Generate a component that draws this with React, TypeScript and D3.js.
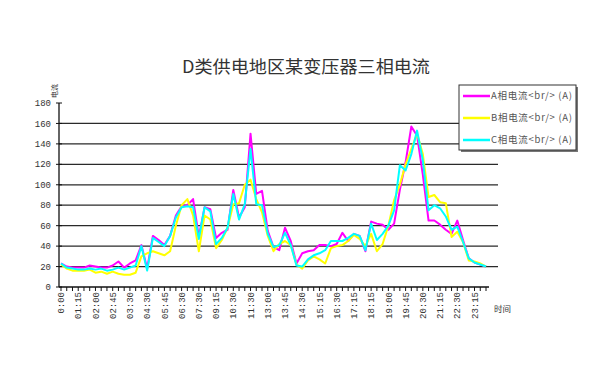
import * as React from 'react';
import * as d3 from 'd3';

const times = [
  '0:00', '0:30', '0:45', '01:15', '01:30', '01:45', '02:00', '02:15', '02:30', '02:45',
  '03:00', '03:15', '03:30', '03:45', '04:00', '04:30', '05:00', '05:15', '05:45', '06:00',
  '06:15', '06:30', '06:45', '07:00', '07:30', '08:15', '08:45', '09:15', '09:45', '10:15',
  '10:30', '10:45', '11:15', '11:30', '12:00', '12:30', '13:00', '13:15', '13:30', '13:45',
  '14:00', '14:15', '14:30', '14:45', '15:00', '15:15', '15:45', '16:15', '16:30', '16:45',
  '17:00', '17:15', '17:45', '18:00', '18:15', '18:30', '18:45', '19:00', '19:15', '19:30',
  '19:45', '20:00', '20:15', '20:30', '20:45', '21:00', '21:15', '21:45', '22:00', '22:30',
  '22:45', '23:00', '23:15', '23:30', '23:45',
];

const phaseA = [
  23, 20, 19, 19, 19, 21, 20, 19, 19, 21, 25, 19, 23, 26, 41, 18, 50, 46, 41, 50,
  70, 79, 80, 86, 49, 78, 76, 48, 53, 56, 95, 68, 78, 150, 91, 94, 55, 39, 36, 58,
  45, 23, 33, 35, 36, 41, 41, 40, 42, 53, 45, 52, 50, 35, 64, 62, 61, 56, 62, 95,
  122, 157, 148, 110, 65, 65, 61, 56, 52, 65, 46, 28, 24, 22, 20,
];

const phaseB = [
  22, 18, 16, 16, 16, 17, 14, 15, 13, 15, 13, 12, 12, 14, 30, 33, 35, 33, 31, 35,
  60, 80, 86, 70, 35, 70, 66, 38, 46, 58, 81, 82, 100, 105, 86, 73, 50, 35, 42, 45,
  41, 22, 18, 26, 30, 27, 23, 38, 40, 41, 45, 51, 47, 40, 52, 35, 42, 60, 85, 100,
  120, 135, 150, 130, 88, 90, 83, 82, 49, 54, 44, 26, 25, 23, 20,
];

const phaseC = [
  23, 19, 18, 17, 17, 18, 17, 18, 16, 17, 19, 17, 19, 21, 40, 16, 48, 44, 40, 50,
  68, 78, 79, 78, 47, 78, 74, 42, 48, 58, 91, 66, 81, 135, 81, 80, 52, 39, 41, 53,
  41, 21, 20, 27, 31, 33, 36, 45, 45, 45, 48, 52, 50, 36, 62, 46, 52, 60, 75, 119,
  114, 130, 153, 124, 75, 80, 77, 69, 56, 59, 44, 28, 24, 22, 20,
];

const yTicks = [0, 20, 40, 60, 80, 100, 120, 140, 160, 180];

const series = [
  { name: 'A相电流<br/> (A)', values: phaseA, color: '#ff00ff' },
  { name: 'B相电流<br/> (A)', values: phaseB, color: '#ffff00' },
  { name: 'C相电流<br/> (A)', values: phaseC, color: '#00ffff' },
];

export default function App() {
  const width = 605;
  const height = 375;
  const axisLeft = 59;
  const axisRight = 489;
  const gridRight = 498;

  const x = d3.scalePoint<string>().domain(times).range([61, 486]);
  const y = d3.scaleLinear().domain([0, 180]).range([287, 103]);

  const line = (vals: number[]) =>
    d3
      .line<number>()
      .x((_, i) => x(times[i]) as number)
      .y((d) => y(d))(vals) as string;

  const labelFont = '"Liberation Mono", "DejaVu Sans Mono", monospace';
  const cjkFont = '"Noto Sans CJK SC", sans-serif';

  return (
    <svg
      width={width}
      height={height}
      style={{ position: 'absolute', left: 0, top: 0, background: '#fff' }}
    >
      <text x={306} y={73} textAnchor="middle" fontSize={17.5} fill="#333" fontFamily={cjkFont}
        textLength={248} lengthAdjust="spacingAndGlyphs">
        D类供电地区某变压器三相电流
      </text>

      {/* grid */}
      {yTicks.filter((t) => t > 0 && t < 180).map((t) => (
        <line key={t} x1={axisLeft} x2={gridRight} y1={y(t)} y2={y(t)} stroke="#2a2a2a" strokeWidth={1.3} />
      ))}

      {/* axes */}
      <line x1={axisLeft} x2={axisLeft} y1={y(180)} y2={y(0)} stroke="#111" strokeWidth={1.3} />
      <line x1={axisLeft} x2={axisRight} y1={y(0)} y2={y(0)} stroke="#111" strokeWidth={1.3} />
      {yTicks.map((t) => (
        <g key={t}>
          <line x1={axisLeft - 3} x2={axisLeft + 3} y1={y(t)} y2={y(t)} stroke="#111" />
          <text x={51} y={y(t)} dy="0.35em" textAnchor="end" fontSize={9} fill="#333" fontFamily={labelFont}>
            {t}
          </text>
        </g>
      ))}
      {times.map((t) => (
        <line key={t} x1={x(t)} x2={x(t)} y1={y(0)} y2={y(0) + 4} stroke="#111" />
      ))}
      {times.map((t, i) =>
        i % 3 === 0 ? (
          <text
            key={t}
            transform={`translate(${x(t)},${y(0) + 5}) rotate(-90)`}
            dy="0.35em"
            textAnchor="end"
            fontSize={9}
            fill="#333"
            fontFamily={labelFont}
          >
            {t}
          </text>
        ) : null
      )}
      <text transform="translate(57,91) rotate(-90)" textAnchor="middle" fontSize={7} fill="#333" fontFamily={cjkFont}>
        电流
      </text>
      <text x={494} y={312} fontSize={8.5} fill="#333" fontFamily={cjkFont}>
        时间
      </text>

      {/* series */}
      {series.map((s) => (
        <path key={s.name} d={line(s.values)} fill="none" stroke={s.color} strokeWidth={2} strokeLinejoin="round" />
      ))}

      {/* legend */}
      <rect x={461} y={87} width={117} height={65} fill="#777" />
      <rect x={459} y={85} width={117} height={65} fill="#fff" stroke="#333" />
      {series.map((s, i) => (
        <g key={s.name} transform={`translate(0,${96 + i * 22})`}>
          <line x1={463} x2={490} y1={0} y2={0} stroke={s.color} strokeWidth={2.5} />
          <text x={491} y={0} dy="0.35em" fontSize={9.5} fill="#555" fontFamily={cjkFont}
            textLength={81} lengthAdjust="spacing">
            {s.name}
          </text>
        </g>
      ))}
    </svg>
  );
}
